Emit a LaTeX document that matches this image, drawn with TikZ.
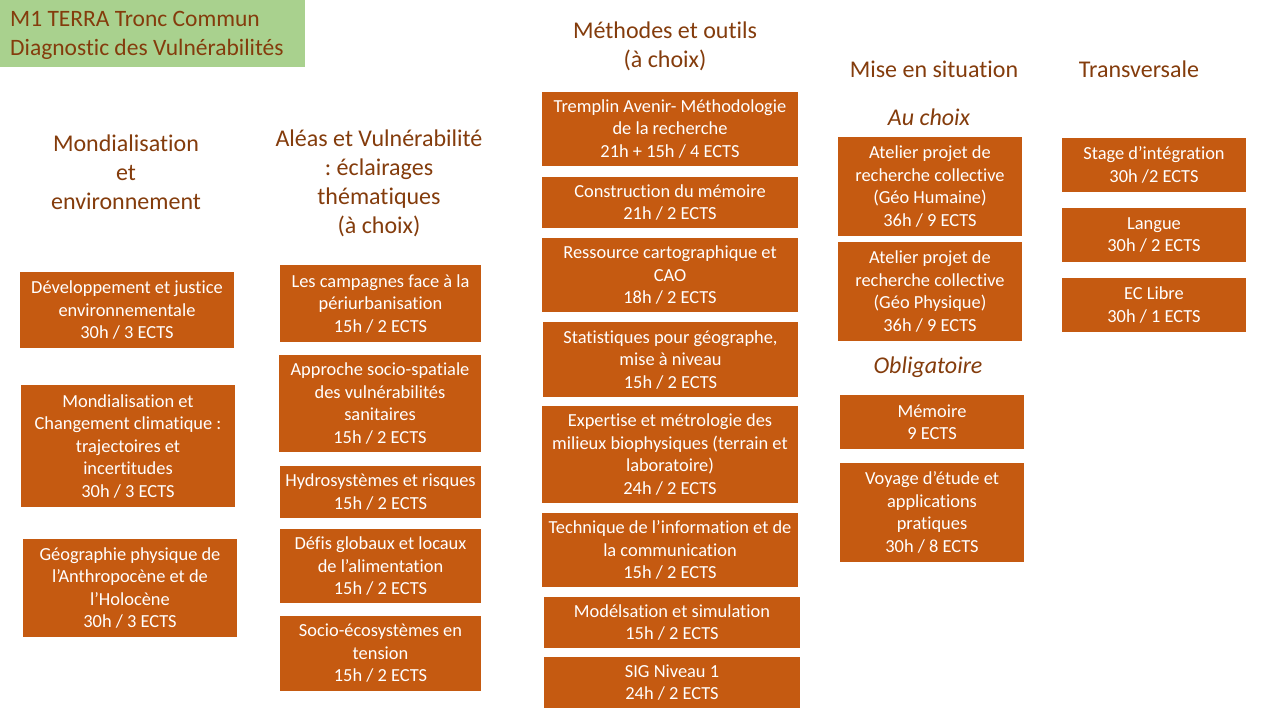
\documentclass[tikz,border=0pt]{standalone}
\usepackage{fontspec}
\setmainfont{Carlito}[Ligatures=NoCommon]
\definecolor{boxor}{HTML}{C55A11}
\definecolor{brn}{HTML}{843C0C}
\definecolor{grn}{HTML}{A9D18E}
\tikzset{
  ubox/.style={fill=boxor, text=white, inner sep=0pt, align=center,
    font=\fontsize{18.4}{22.5}\selectfont},
  head/.style={text=brn, inner sep=0pt, align=center,
    font=\fontsize{24}{29}\selectfont},
  ital/.style={text=brn, inner sep=0pt, align=center,
    font=\fontsize{24}{29}\selectfont\itshape},
}
\begin{document}
\frenchspacing
\begin{tikzpicture}[x=1pt,y=-1pt]
\fill[white] (0,0) rectangle (1280,720);
\useasboundingbox (0,0) rectangle (1280,720);
% title
\node[fill=grn, minimum width=305pt, minimum height=67pt, inner sep=0pt]
  (titlebox) at (152.5,33.5) {};
\node[anchor=west, align=left, inner sep=0pt, text=brn,
  font=\fontsize{23.5}{29}\selectfont]
  (title) at (10,35) {M1 TERRA Tronc Commun\\Diagnostic des Vulnérabilités};
% column 1
\node[head] (h1) at (126,172) {Mondialisation\\et\\environnement};
\node[ubox, minimum width=214pt, minimum height=76pt] (b11) at (127,310)
  {Développement et justice\\environnementale\\30h / 3 ECTS};
\node[ubox, minimum width=214pt, minimum height=122pt] (b12) at (128,446)
  {Mondialisation et\\Changement climatique :\\trajectoires et\\incertitudes\\30h / 3 ECTS};
\node[ubox, minimum width=214pt, minimum height=98pt] (b13) at (130,588)
  {Géographie physique de\\l’Anthropocène et de\\l’Holocène\\30h / 3 ECTS};
% column 2
\node[head] (h2) at (379,183) {Aléas et Vulnérabilité\\: éclairages\\thématiques\\(à choix)};
\node[ubox, minimum width=201pt, minimum height=77pt] (b21) at (380.5,303.5)
  {Les campagnes face à la\\périurbanisation\\15h / 2 ECTS};
\node[ubox, minimum width=202pt, minimum height=97pt] (b22) at (380,403.5)
  {Approche socio-spatiale\\des vulnérabilités\\sanitaires\\15h / 2 ECTS};
\node[ubox, minimum width=201pt, minimum height=52pt] (b23) at (380.5,492)
  {Hydrosystèmes et risques\\15h / 2 ECTS};
\node[ubox, minimum width=201pt, minimum height=74pt] (b24) at (380.5,566)
  {Défis globaux et locaux\\de l’alimentation\\15h / 2 ECTS};
\node[ubox, minimum width=201pt, minimum height=75pt] (b25) at (380.5,653.5)
  {Socio-écosystèmes en\\tension\\15h / 2 ECTS};
% column 3
\node[head] (h3) at (665,46.5) {Méthodes et outils\\(à choix)};
\node[ubox, minimum width=256pt, minimum height=74pt] (b31) at (670,129)
  {Tremplin Avenir- Méthodologie\\de la recherche\\21h + 15h / 4 ECTS};
\node[ubox, minimum width=256pt, minimum height=51pt] (b32) at (670,202.5)
  {Construction du mémoire\\21h / 2 ECTS};
\node[ubox, minimum width=256pt, minimum height=74pt] (b33) at (670,275)
  {Ressource cartographique et\\CAO\\18h / 2 ECTS};
\node[ubox, minimum width=255pt, minimum height=75pt] (b34) at (670.5,359.5)
  {Statistiques pour géographe,\\mise à niveau\\15h / 2 ECTS};
\node[ubox, minimum width=256pt, minimum height=97pt] (b35) at (670,454.5)
  {Expertise et métrologie des\\milieux biophysiques (terrain et\\laboratoire)\\24h / 2 ECTS};
\node[ubox, minimum width=256pt, minimum height=74pt] (b36) at (670,550)
  {Technique de l’information et de\\la communication\\15h / 2 ECTS};
\node[ubox, minimum width=256pt, minimum height=51pt] (b37) at (672,622.5)
  {Modélsation et simulation\\15h / 2 ECTS};
\node[ubox, minimum width=256pt, minimum height=51pt] (b38) at (672,682.5)
  {SIG Niveau 1\\24h / 2 ECTS};
% column 4
\node[head] (h4) at (934,69) {Mise en situation};
\node[ital] (ch) at (929,117) {Au choix};
\node[ubox, minimum width=184pt, minimum height=99pt] (b41) at (930,186.5)
  {Atelier projet de\\recherche collective\\(Géo Humaine)\\36h / 9 ECTS};
\node[ubox, minimum width=184pt, minimum height=99pt] (b42) at (930,291.5)
  {Atelier projet de\\recherche collective\\(Géo Physique)\\36h / 9 ECTS};
\node[ital] (ob) at (928,367) {Obligatoire};
\node[ubox, minimum width=184pt, minimum height=54pt] (b43) at (932,422)
  {Mémoire\\9 ECTS};
\node[ubox, minimum width=184pt, minimum height=99pt] (b44) at (932,512.5)
  {Voyage d’étude et\\applications\\pratiques\\30h / 8 ECTS};
% column 5
\node[head] (h5) at (1139,69) {Transversale};
\node[ubox, minimum width=184pt, minimum height=54pt] (b51) at (1154,165)
  {Stage d’intégration\\30h /2 ECTS};
\node[ubox, minimum width=184pt, minimum height=54pt] (b52) at (1154,235)
  {Langue\\30h / 2 ECTS};
\node[ubox, minimum width=184pt, minimum height=54pt] (b53) at (1154,305)
  {EC Libre\\30h / 1 ECTS};
\end{tikzpicture}
\end{document}
